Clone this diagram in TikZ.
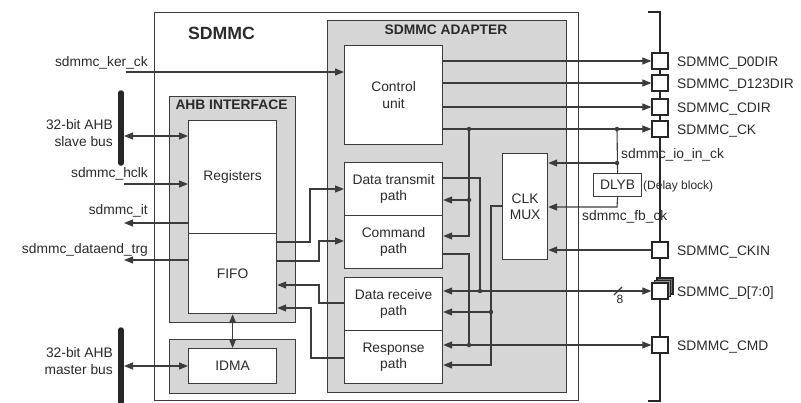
\documentclass[tikz,border=0pt]{standalone}
\usepackage{fontspec}
\setmainfont{Liberation Sans}
\usetikzlibrary{arrows.meta}

\definecolor{linegrey}{HTML}{3C3C3C}
\definecolor{fillgrey}{HTML}{D6D6D6}
\definecolor{txtgrey}{HTML}{2A2A2A}

\tikzset{
  frame/.style={draw=linegrey, line width=1.2pt, anchor=north west, inner sep=0pt},
  grp/.style={frame, fill=fillgrey},
  blk/.style={frame, fill=white},
  ttl/.style={font=\fontsize{13.8}{16}\selectfont\bfseries, inner sep=0pt},
  ln/.style={draw=linegrey, line width=1.1pt},
  sig/.style={ln, -{Triangle[length=9pt,width=7pt]}},
  dsig/.style={ln, {Triangle[length=9pt,width=7pt]}-{Triangle[length=9pt,width=7pt]}},
  bus/.style={draw=black!85, line width=5.5pt, line cap=round},
  pad/.style={draw=black!85, fill=white, line width=1.2pt, minimum size=16pt, inner sep=0pt},
  jdot/.style={circle, fill=linegrey, inner sep=0pt, minimum size=4.5pt},
  lbl/.style={anchor=base east, inner sep=0pt},
  plbl/.style={anchor=base west, inner sep=0pt},
  small/.style={font=\fontsize{12}{14}\selectfont, inner sep=0pt}
}

\begin{document}
\begin{tikzpicture}[x=1pt, y=-1pt, font=\fontsize{13.8}{16.5}\selectfont, text=txtgrey]
\useasboundingbox (0,0) rectangle (801,402);

% main frame and groups
\node[frame, minimum width=424pt, minimum height=388pt] (sdmmc) at (154,12) {};
\node[ttl, font=\fontsize{17.7}{20}\selectfont\bfseries] (tsdmmc) at (221.5,33) {SDMMC};
\node[grp, minimum width=239pt, minimum height=372pt] (adapter) at (327,20) {};
\node[ttl] (tadapter) at (446,30) {SDMMC ADAPTER};
\node[grp, minimum width=126pt, minimum height=226pt] (ahb) at (169,96) {};
\node[ttl] (tahb) at (231.5,105) {AHB INTERFACE};
\node[grp, minimum width=126pt, minimum height=54pt] (idmagrp) at (169,339) {};

% blocks
\node[blk, minimum width=88pt, minimum height=113pt] (regs) at (188,120) {};
\node (tregs) at (regs.center) {Registers};
\node[blk, minimum width=88pt, minimum height=80pt] (fifo) at (188,233) {};
\node (tfifo) at (fifo.center) {FIFO};
\node[blk, minimum width=88pt, minimum height=35pt] (idma) at (188,348) {};
\node (tidma) at (idma.center) {IDMA};

\node[blk, minimum width=98pt, minimum height=99pt] (ctrl) at (344,45) {};
\node[align=center] (tctrl) at (ctrl.center) {Control\\unit};
\node[blk, minimum width=98pt, minimum height=53pt] (dtx) at (344,162) {};
\node[align=center] (tdtx) at (dtx.center) {Data transmit\\path};
\node[blk, minimum width=98pt, minimum height=53pt] (cmd) at (344,215) {};
\node[align=center] (tcmd) at (cmd.center) {Command\\path};
\node[blk, minimum width=98pt, minimum height=53pt] (drx) at (344,277) {};
\node[align=center] (tdrx) at (drx.center) {Data receive\\path};
\node[blk, minimum width=98pt, minimum height=53pt] (rsp) at (344,330) {};
\node[align=center] (trsp) at (rsp.center) {Response\\path};
\node[blk, minimum width=45pt, minimum height=106pt] (clkmux) at (502,153) {};
\node[align=center] (tclkmux) at (clkmux.center) {CLK\\MUX};

% delay block
\node[blk, minimum width=48pt, minimum height=23pt] (dlyb) at (593,173) {};
\node (tdlyb) at (dlyb.center) {DLYB};
\node[small, anchor=west] (tdelay) at (643,186) {(Delay block)};

% pins
\draw[ln, line width=1.4pt, draw=black!85] (648,12) -- (660,12) -- (660,401) -- (648,401);
\node[pad] (d0dir) at (660,61) {};
\node[pad] (d123dir) at (660,83) {};
\node[pad] (cdir) at (660,107) {};
\node[pad] (ck) at (660,129) {};
\node[pad] (ckin) at (660,250) {};
\node[pad, fill=black!55] (dback) at (665,286) {};
\node[pad, fill=black!40] (dmid) at (662.5,288.5) {};
\node[pad] (dpad) at (660,291) {};
\node[pad] (cmdpad) at (660,345) {};
\node[plbl] (ld0dir) at (677,66) {SDMMC\_D0DIR};
\node[plbl] (ld123dir) at (677,88) {SDMMC\_D123DIR};
\node[plbl] (lcdir) at (677,112) {SDMMC\_CDIR};
\node[plbl] (lck) at (677,134) {SDMMC\_CK};
\node[plbl] (lckin) at (677,255) {SDMMC\_CKIN};
\node[plbl] (ld) at (677,296) {SDMMC\_D[7:0]};
\node[plbl] (lcmd) at (677,350) {SDMMC\_CMD};

% buses on the left
\draw[bus] (121,93) -- (121,163);
\draw[bus] (121,330) -- (121,402);
\node[align=right, anchor=east, inner sep=0pt] (lslave) at (113,133) {32-bit AHB\\slave bus};
\node[align=right, anchor=east, inner sep=0pt] (lmaster) at (113,361) {32-bit AHB\\master bus};

% left signals
\coordinate (slv) at (124,136);
\coordinate (mst) at (124,366);
\coordinate (kerck) at (126,72);
\coordinate (hclk) at (124,184);
\coordinate (it) at (124,223);
\coordinate (dend) at (124,260);
\draw[dsig] (slv) -- (regs.west |- slv);
\draw[dsig] (mst) -- (idma.west |- mst);
\draw[dsig] (fifo.south) -- (idma.north);
\draw[sig] (kerck) -- (ctrl.west |- kerck);
\draw[sig] (hclk) -- (regs.west |- hclk);
\draw[sig] (regs.west |- it) -- (it);
\draw[sig] (fifo.west |- dend) -- (dend);
\node[lbl] (lkerck) at (148,66) {sdmmc\_ker\_ck};
\node[lbl] (lhclk) at (148,177) {sdmmc\_hclk};
\node[lbl] (lit) at (148,214) {sdmmc\_it};
\node[lbl] (ldend) at (148,253) {sdmmc\_dataend\_trg};

% fifo <-> paths
\coordinate (f1a) at (310,242); \coordinate (f1b) at (310,189);
\draw[sig] (fifo.east |- f1a) -- (f1a) -- (f1b) -- (dtx.west |- f1b);
\coordinate (f2a) at (319,261); \coordinate (f2b) at (319,241);
\draw[sig] (fifo.east |- f2a) -- (f2a) -- (f2b) -- (cmd.west |- f2b);
\coordinate (f3a) at (319,303); \coordinate (f3b) at (319,285);
\draw[sig] (drx.west |- f3a) -- (f3a) -- (f3b) -- (fifo.east |- f3b);
\coordinate (f4a) at (311,358); \coordinate (f4b) at (311,308);
\draw[sig] (rsp.west |- f4a) -- (f4a) -- (f4b) -- (fifo.east |- f4b);

% control unit outputs
\draw[sig] (ctrl.east |- d0dir) -- (d0dir.west);
\draw[sig] (ctrl.east |- d123dir) -- (d123dir.west);
\draw[sig] (ctrl.east |- cdir) -- (cdir.west);
\draw[sig] (ctrl.east |- ck) -- (ck.west);

% clock feedback
\coordinate (ckA) at (469,129);
\coordinate (ckB) at (617,129);
\coordinate (ioin) at (617,163);
\coordinate (fbck) at (617,207);
\draw[ln] (ckB) -- (dlyb.north);
\draw[sig] (ioin) -- (clkmux.east |- ioin);
\draw[sig] (dlyb.south) -- (fbck) -- (clkmux.east |- fbck);
\draw[sig] (ckin.west) -- (clkmux.east |- ckin);
\node[plbl] (lioin) at (621,158) {sdmmc\_io\_in\_ck};
\node[plbl] (lfbck) at (582,220) {sdmmc\_fb\_ck};

% clock to transmit side
\coordinate (ckdtx) at (469,200);
\coordinate (ckcmd) at (469,236);
\draw[sig] (ckA) -- (ckcmd) -- (cmd.east |- ckcmd);
\draw[sig] (ckdtx) -- (dtx.east |- ckdtx);

% data lines
\coordinate (dtxo) at (480,178);
\coordinate (dj) at (480,291);
\draw[ln] (dtx.east |- dtxo) -- (dtxo) -- (dj);
\draw[sig] (dj) -- (dpad.west);
\draw[sig] (dj) -- (drx.east |- dj);
\draw[ln] (614,295) -- (622,287);
\node[small] (lwidth) at (620,299) {8};

% command line
\coordinate (cmdo) at (469,254);
\coordinate (cj) at (469,345);
\draw[ln] (cmd.east |- cmdo) -- (cmdo) -- (cj);
\draw[sig] (cj) -- (cmdpad.west);
\draw[sig] (cj) -- (rsp.east |- cj);

% clock to receive side
\coordinate (muxo) at (491,206);
\coordinate (mrx) at (491,312);
\coordinate (mrsp) at (491,365);
\draw[sig] (clkmux.west |- muxo) -- (muxo) -- (mrsp) -- (rsp.east |- mrsp);
\draw[sig] (mrx) -- (drx.east |- mrx);

% junction dots
\node[jdot] (dotckA) at (ckA) {};
\node[jdot] (dotckB) at (ckB) {};
\node[jdot] (dotio) at (ioin) {};
\node[jdot] (dotdtx) at (ckdtx) {};
\node[jdot] (dotd) at (dj) {};
\node[jdot] (dotcmd) at (cj) {};
\node[jdot] (dotrx) at (mrx) {};
\end{tikzpicture}
\end{document}
